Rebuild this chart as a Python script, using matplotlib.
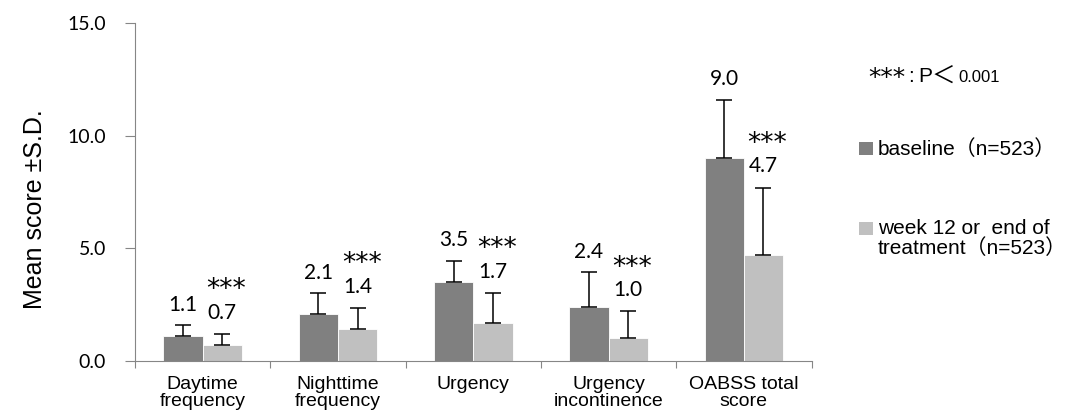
import matplotlib
matplotlib.use("Agg")
import matplotlib.pyplot as plt
from matplotlib.patches import Rectangle
import numpy as np

categories = ["Daytime\nfrequency", "Nighttime\nfrequency", "Urgency",
              "Urgency\nincontinence", "OABSS total\nscore"]
baseline = [1.1, 2.1, 3.5, 2.4, 9.0]
baseline_sd = [0.5, 0.9, 0.95, 1.55, 2.6]
week12 = [0.7, 1.4, 1.7, 1.0, 4.7]
week12_sd = [0.5, 0.95, 1.3, 1.2, 3.0]
series_names = ["baseline（n=523）", "week 12 or  end of\ntreatment（n=523）"]

TXT = ["Liberation Sans", "Noto Sans CJK JP", "DejaVu Sans"]
NUM = ["Lato", "DejaVu Sans"]
STAR = ["DejaVu Sans"]
c_base = "#808080"
c_week = "#c0c0c0"
axis_c = "#868686"

fig = plt.figure(figsize=(10.72, 4.2), dpi=100)
ax = fig.add_axes([0.126, 0.1405, 0.631, 0.8045])

x = np.arange(len(categories))
w = 0.29
ax.bar(x - w / 2, baseline, w, color=c_base, edgecolor="white", linewidth=0.6, zorder=2)
ax.bar(x + w / 2, week12, w, color=c_week, edgecolor="white", linewidth=0.6, zorder=2)
ax.errorbar(x - w / 2, baseline, yerr=[np.zeros(len(x)), baseline_sd], fmt="none",
            ecolor="black", elinewidth=1.1, capsize=6, capthick=1.1, zorder=3)
ax.errorbar(x + w / 2, week12, yerr=[np.zeros(len(x)), week12_sd], fmt="none",
            ecolor="black", elinewidth=1.1, capsize=6, capthick=1.1, zorder=3)

for i in range(len(x)):
    yb = baseline[i] + baseline_sd[i] + 0.9
    yw = week12[i] + week12_sd[i] + 0.95
    ax.text(x[i] - w / 2, yb, f"{baseline[i]:.1f}", ha="center", va="center",
            fontsize=15, family=NUM)
    ax.text(x[i] + w / 2, yw, f"{week12[i]:.1f}", ha="center", va="center",
            fontsize=15, family=NUM)
    # asterisk glyph sits high, so drop the anchor a little
    ax.text(x[i] + w / 2 + 0.03, yw + 1.4 - 0.4, "***", ha="center", va="center",
            fontsize=19, family=STAR)

ax.set_xlim(-0.5, len(x) - 0.5)
ax.set_ylim(0, 15)
ax.set_yticks([0, 5, 10, 15])
ax.set_yticklabels([f"{v:.1f}" for v in [0, 5, 10, 15]], family=NUM, fontsize=14)
ax.set_xticks(np.arange(len(x) + 1) - 0.5)
ax.set_xticklabels([])
ax.set_xticks(x, minor=True)
ax.set_xticklabels(categories, minor=True, family=TXT, fontsize=14, linespacing=0.95)
ax.tick_params(axis="x", which="minor", length=0, pad=11)
ax.tick_params(axis="x", which="major", length=5, color=axis_c, direction="out")
ax.tick_params(axis="y", length=7, color=axis_c, direction="out", pad=14)
for s in ["top", "right"]:
    ax.spines[s].set_visible(False)
for s in ["left", "bottom"]:
    ax.spines[s].set_color(axis_c)
ax.set_ylabel("Mean score \u00b1S.D.", family=TXT, fontsize=18)
ax.yaxis.set_label_coords(-0.13, 0.45)

# significance note
fig.text(868 / 1072, 1 - 78 / 420, "***", family=STAR, fontsize=18, va="center")
fig.text(908 / 1072, 1 - 76 / 420, ":", family=TXT, fontsize=15, va="center")
fig.text(918 / 1072, 1 - 76 / 420, "P", family=TXT, fontsize=15, va="center")
fig.text(932 / 1072, 1 - 77 / 420, "＜", family=TXT, fontsize=17, va="center")
fig.text(958 / 1072, 1 - 82 / 420, "0.001", family=TXT, fontsize=12, va="baseline")

# legend drawn by hand so the square sits on the first text line
legend_colors = [c_base, c_week]
legend_y = [148, 228]
for col, name, yy in zip(legend_colors, series_names, legend_y):
    fig.patches.append(Rectangle((859 / 1072, 1 - (yy + 6.5) / 420), 14 / 1072, 13 / 420,
                                 transform=fig.transFigure, facecolor=col, edgecolor="none"))
    fig.text(878 / 1072, 1 - (yy - 9) / 420, name, family=TXT, fontsize=15,
             va="top", linespacing=1.0)

fig.savefig("out.png", dpi=100)
